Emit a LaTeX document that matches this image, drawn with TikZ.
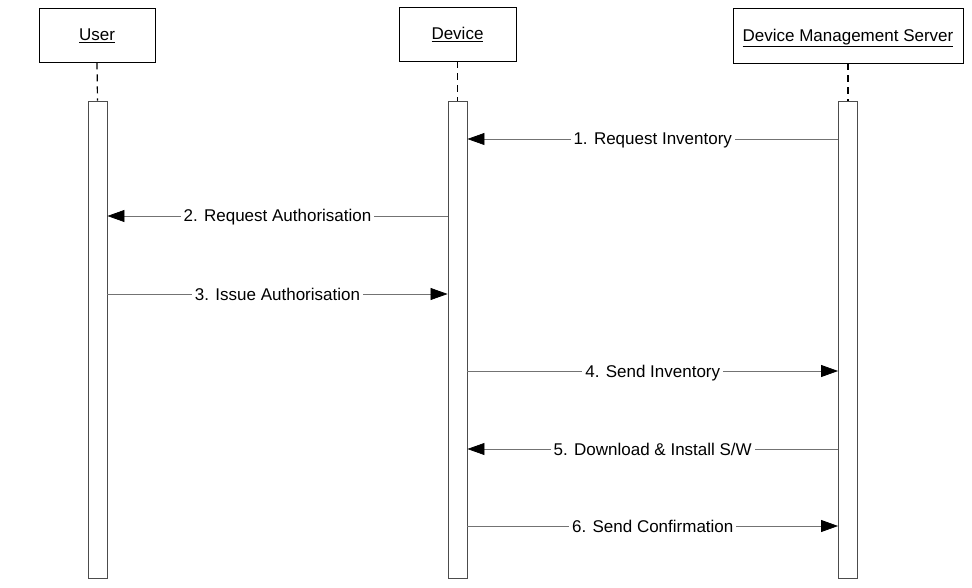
\documentclass[tikz,border=0pt]{standalone}
\usepackage{fontspec}
\setmainfont{Liberation Sans}
\usetikzlibrary{arrows.meta}
\begin{document}
\begin{tikzpicture}[
	x=1pt, y=-1pt,
	font=\fontsize{17}{20}\selectfont,
	actor/.style={ rectangle, draw, line width=0.9pt, minimum height=54pt, inner sep=0pt, text height=12pt, text depth=0pt },
	bar/.style={ rectangle, draw=black!70, line width=0.9pt, fill=white, minimum width=19pt, minimum height=477pt, inner sep=0pt },
	life/.style={ black, line width=1.2pt, dash pattern=on 7pt off 5pt },
	msg/.style={ black!55, line width=0.7pt, -{Triangle[length=17pt,width=12pt,black]} },
	lbl/.style={ fill=white, text=black, inner sep=3pt, text height=12pt, text depth=0pt }
]
\useasboundingbox (0,0) rectangle (972,588);

% objects
\node at (97,35) (user) [actor,minimum width=116pt] {\underline{User}};
\node at (457.5,34) (device) [actor,minimum width=117pt] {\underline{Device}};
\node at (848,35.5) (dms) [actor,minimum width=230pt,minimum height=55pt] {\underline{Device Management Server}};

% life lines
\node at (97.5,339.5) (userbar) [bar] {};
\node at (457.5,339.5) (devbar) [bar] {};
\node at (848,339.5) (dmsbar) [bar] {};
\draw[life] (user.south) -- (userbar.north);
\draw[life] (device.south) -- (devbar.north);
\draw[life] (dms.south) -- (dmsbar.north);

% messages
\coordinate (m1) at (0,139);
\coordinate (m2) at (0,216);
\coordinate (m3) at (0,294);
\coordinate (m4) at (0,371);
\coordinate (m5) at (0,449);
\coordinate (m6) at (0,526);
\draw[msg] (dmsbar.west |- m1) -- node[lbl] {1. Request Inventory} (devbar.east |- m1);
\draw[msg] (devbar.west |- m2) -- node[lbl] {2. Request Authorisation} (userbar.east |- m2);
\draw[msg] (userbar.east |- m3) -- node[lbl] {3. Issue Authorisation} (devbar.west |- m3);
\draw[msg] (devbar.east |- m4) -- node[lbl] {4. Send Inventory} (dmsbar.west |- m4);
\draw[msg] (dmsbar.west |- m5) -- node[lbl] {5. Download \& Install S/W} (devbar.east |- m5);
\draw[msg] (devbar.east |- m6) -- node[lbl] {6. Send Confirmation} (dmsbar.west |- m6);

\end{tikzpicture}
\end{document}
